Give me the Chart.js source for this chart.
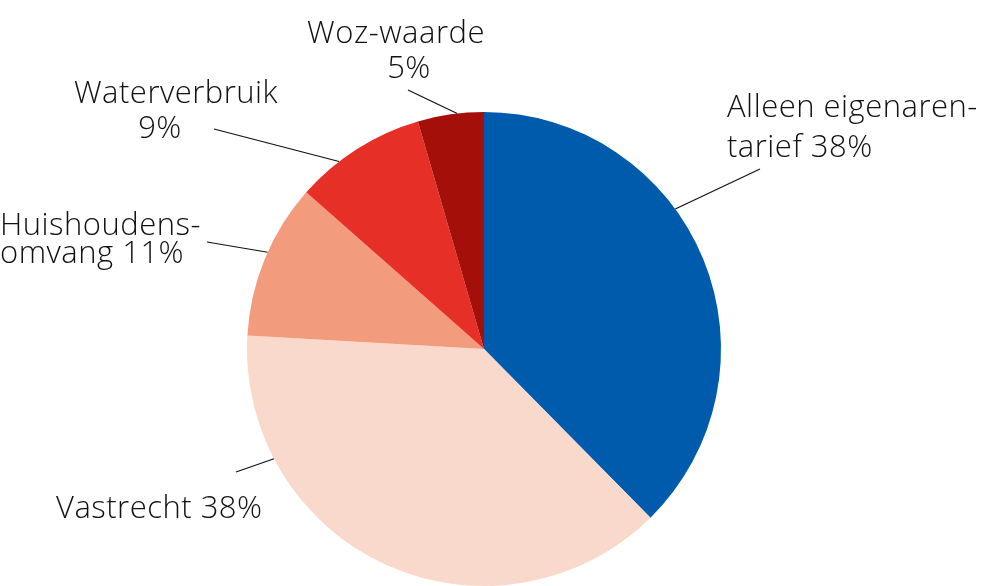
<!DOCTYPE html>
<html>
<head>
<meta charset="utf-8">
<script src="https://cdn.jsdelivr.net/npm/chart.js@4"></script>
<style>
html,body{margin:0;padding:0;background:#fff;}
#wrap{width:985px;height:586px;position:relative;}
</style>
</head>
<body>
<div id="wrap"><canvas id="c" width="985" height="586"></canvas></div>
<script>
const categories = ['Alleen eigenarentarief', 'Vastrecht', 'Huishoudensomvang', 'Waterverbruik', 'Woz-waarde'];
const values = [37.6, 38.3, 10.6, 9.0, 4.5];
const colors = ['#005BAC', '#F9D9CB', '#F39B7D', '#E63027', '#A50F0A'];
const labelLines = [
  ['Alleen eigenaren-', 'tarief 38%'],
  ['Vastrecht 38%'],
  ['Huishoudens-', 'omvang 11%'],
  ['Waterverbruik', '9%'],
  ['Woz-waarde', '5%']
];

// label layout (annotation positions)
const labelLayout = [
  {lines: [{x: 727, y: 117, align: 'left'}, {x: 727, y: 157, align: 'left'}], angle: 53.8, from: [760, 169]},
  {lines: [{x: 56, y: 518, align: 'left'}], angle: 242.4, from: [236, 472]},
  {lines: [{x: 0, y: 235, align: 'left'}, {x: 0, y: 263, align: 'left'}], angle: 294.1, from: [207, 242]},
  {lines: [{x: 176, y: 103, align: 'center'}, {x: 160, y: 138, align: 'center'}], angle: 322.3, from: [214, 129]},
  {lines: [{x: 396, y: 43, align: 'center'}, {x: 409, y: 78, align: 'center'}], angle: 353.5, from: [408, 90]}
];

const labelPlugin = {
  id: 'pieLabels',
  afterDraw(chart) {
    const ctx = chart.ctx;
    const arc = chart.getDatasetMeta(0).data[0];
    if (!arc) return;
    const cx = arc.x, cy = arc.y, r = arc.outerRadius;
    ctx.save();
    ctx.fillStyle = '#111';
    ctx.strokeStyle = '#111';
    ctx.lineWidth = 1.2;
    ctx.font = '300 31px "Open Sans", Lato, sans-serif';
    ctx.letterSpacing = '0.5px';
    ctx.textBaseline = 'alphabetic';
    labelLayout.forEach((lay, i) => {
      labelLines[i].forEach((t, j) => {
        const p = lay.lines[j];
        ctx.textAlign = p.align;
        ctx.fillText(t, p.x, p.y);
      });
      const a = lay.angle * Math.PI / 180;
      const px = cx + r * Math.sin(a);
      const py = cy - r * Math.cos(a);
      ctx.beginPath();
      ctx.moveTo(lay.from[0], lay.from[1]);
      ctx.lineTo(px, py);
      ctx.stroke();
    });
    ctx.restore();
  }
};

new Chart(document.getElementById('c'), {
  type: 'pie',
  data: {
    labels: categories,
    datasets: [{
      data: values,
      backgroundColor: colors,
      borderWidth: 0
    }]
  },
  options: {
    responsive: false,
    animation: false,
    layout: {padding: {top: 112, bottom: 0, left: 247, right: 264}},
    plugins: {legend: {display: false}, tooltip: {enabled: false}}
  },
  plugins: [labelPlugin]
});
</script>
</body>
</html>
